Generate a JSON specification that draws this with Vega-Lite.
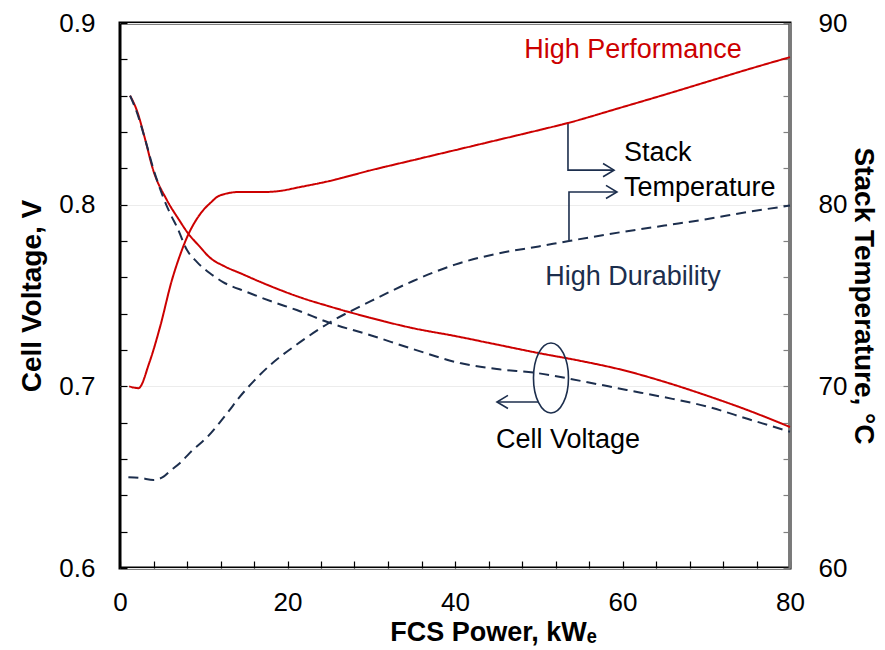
{
  "$schema": "https://vega.github.io/schema/vega-lite/v6.json",
  "width": 670,
  "height": 545,
  "autosize": "none",
  "padding": {"left": 120, "top": 23, "right": 95, "bottom": 82},
  "config": {
    "font": "Liberation Sans",
    "view": {"stroke": "black", "strokeWidth": 3},
    "axis": {"labelFont": "Liberation Sans", "titleFont": "Liberation Sans", "labelColor": "black", "titleColor": "black", "zindex": 1}
  },
  "datasets": {
    "cv": [
      {"P": 1.2, "V": 0.860, "mode": "High Performance"},
      {"P": 2, "V": 0.852, "mode": "High Performance"},
      {"P": 3, "V": 0.836, "mode": "High Performance"},
      {"P": 3.9, "V": 0.820, "mode": "High Performance"},
      {"P": 5.6, "V": 0.8025, "mode": "High Performance"},
      {"P": 7, "V": 0.792, "mode": "High Performance"},
      {"P": 8.1, "V": 0.7844, "mode": "High Performance"},
      {"P": 9.5, "V": 0.777, "mode": "High Performance"},
      {"P": 10.7, "V": 0.771, "mode": "High Performance"},
      {"P": 12.5, "V": 0.766, "mode": "High Performance"},
      {"P": 14.3, "V": 0.7624, "mode": "High Performance"},
      {"P": 17, "V": 0.757, "mode": "High Performance"},
      {"P": 21.5, "V": 0.749, "mode": "High Performance"},
      {"P": 25, "V": 0.744, "mode": "High Performance"},
      {"P": 30, "V": 0.7376, "mode": "High Performance"},
      {"P": 35, "V": 0.732, "mode": "High Performance"},
      {"P": 40, "V": 0.7277, "mode": "High Performance"},
      {"P": 45, "V": 0.723, "mode": "High Performance"},
      {"P": 50, "V": 0.7183, "mode": "High Performance"},
      {"P": 55, "V": 0.714, "mode": "High Performance"},
      {"P": 60, "V": 0.709, "mode": "High Performance"},
      {"P": 65, "V": 0.7025, "mode": "High Performance"},
      {"P": 70, "V": 0.695, "mode": "High Performance"},
      {"P": 75, "V": 0.6868, "mode": "High Performance"},
      {"P": 80, "V": 0.6776, "mode": "High Performance"},
      {"P": 1.2, "V": 0.860, "mode": "High Durability"},
      {"P": 2, "V": 0.851, "mode": "High Durability"},
      {"P": 3, "V": 0.836, "mode": "High Durability"},
      {"P": 3.9, "V": 0.821, "mode": "High Durability"},
      {"P": 5, "V": 0.806, "mode": "High Durability"},
      {"P": 6, "V": 0.795, "mode": "High Durability"},
      {"P": 6.8, "V": 0.7877, "mode": "High Durability"},
      {"P": 8, "V": 0.775, "mode": "High Durability"},
      {"P": 9.2, "V": 0.7684, "mode": "High Durability"},
      {"P": 10.7, "V": 0.7624, "mode": "High Durability"},
      {"P": 12.3, "V": 0.7574, "mode": "High Durability"},
      {"P": 15.1, "V": 0.752, "mode": "High Durability"},
      {"P": 18.3, "V": 0.7464, "mode": "High Durability"},
      {"P": 21.1, "V": 0.742, "mode": "High Durability"},
      {"P": 25, "V": 0.735, "mode": "High Durability"},
      {"P": 30, "V": 0.728, "mode": "High Durability"},
      {"P": 35, "V": 0.7205, "mode": "High Durability"},
      {"P": 40.6, "V": 0.7128, "mode": "High Durability"},
      {"P": 45, "V": 0.7095, "mode": "High Durability"},
      {"P": 49.8, "V": 0.7073, "mode": "High Durability"},
      {"P": 55, "V": 0.703, "mode": "High Durability"},
      {"P": 60.5, "V": 0.698, "mode": "High Durability"},
      {"P": 65, "V": 0.694, "mode": "High Durability"},
      {"P": 70, "V": 0.689, "mode": "High Durability"},
      {"P": 75, "V": 0.682, "mode": "High Durability"},
      {"P": 80, "V": 0.675, "mode": "High Durability"}
    ],
    "temp": [
      {"P": 1.1, "T": 70.0, "mode": "High Performance"},
      {"P": 2.2, "T": 69.9, "mode": "High Performance"},
      {"P": 3.5, "T": 71.3, "mode": "High Performance"},
      {"P": 4.8, "T": 73.3, "mode": "High Performance"},
      {"P": 6.2, "T": 75.85, "mode": "High Performance"},
      {"P": 7, "T": 77.0, "mode": "High Performance"},
      {"P": 8, "T": 78.2, "mode": "High Performance"},
      {"P": 9.6, "T": 79.5, "mode": "High Performance"},
      {"P": 10.8, "T": 80.1, "mode": "High Performance"},
      {"P": 11.9, "T": 80.5, "mode": "High Performance"},
      {"P": 14.3, "T": 80.7, "mode": "High Performance"},
      {"P": 17.5, "T": 80.7, "mode": "High Performance"},
      {"P": 19, "T": 80.75, "mode": "High Performance"},
      {"P": 21.5, "T": 80.97, "mode": "High Performance"},
      {"P": 25, "T": 81.3, "mode": "High Performance"},
      {"P": 30, "T": 81.9, "mode": "High Performance"},
      {"P": 35, "T": 82.45, "mode": "High Performance"},
      {"P": 40, "T": 83.0, "mode": "High Performance"},
      {"P": 45, "T": 83.55, "mode": "High Performance"},
      {"P": 50, "T": 84.1, "mode": "High Performance"},
      {"P": 53.5, "T": 84.5, "mode": "High Performance"},
      {"P": 60, "T": 85.37, "mode": "High Performance"},
      {"P": 65, "T": 86.05, "mode": "High Performance"},
      {"P": 70, "T": 86.75, "mode": "High Performance"},
      {"P": 75, "T": 87.45, "mode": "High Performance"},
      {"P": 80, "T": 88.12, "mode": "High Performance"},
      {"P": 1.0, "T": 65.0, "mode": "High Durability"},
      {"P": 2.5, "T": 64.95, "mode": "High Durability"},
      {"P": 4, "T": 64.85, "mode": "High Durability"},
      {"P": 5.1, "T": 65.0, "mode": "High Durability"},
      {"P": 6, "T": 65.35, "mode": "High Durability"},
      {"P": 7.2, "T": 65.8, "mode": "High Durability"},
      {"P": 8.7, "T": 66.5, "mode": "High Durability"},
      {"P": 10.4, "T": 67.2, "mode": "High Durability"},
      {"P": 11.9, "T": 68.0, "mode": "High Durability"},
      {"P": 13.1, "T": 68.7, "mode": "High Durability"},
      {"P": 14, "T": 69.25, "mode": "High Durability"},
      {"P": 16, "T": 70.3, "mode": "High Durability"},
      {"P": 18, "T": 71.2, "mode": "High Durability"},
      {"P": 21.1, "T": 72.3, "mode": "High Durability"},
      {"P": 25, "T": 73.5, "mode": "High Durability"},
      {"P": 30, "T": 74.7, "mode": "High Durability"},
      {"P": 35, "T": 75.8, "mode": "High Durability"},
      {"P": 40, "T": 76.7, "mode": "High Durability"},
      {"P": 45, "T": 77.3, "mode": "High Durability"},
      {"P": 50, "T": 77.7, "mode": "High Durability"},
      {"P": 53.6, "T": 78.0, "mode": "High Durability"},
      {"P": 60, "T": 78.5, "mode": "High Durability"},
      {"P": 65, "T": 78.85, "mode": "High Durability"},
      {"P": 70, "T": 79.2, "mode": "High Durability"},
      {"P": 75, "T": 79.6, "mode": "High Durability"},
      {"P": 80, "T": 79.95, "mode": "High Durability"}
    ],
    "brackets": [
      {"seg": "a", "ord": 1, "P": 53.49, "V": 0.845},
      {"seg": "a", "ord": 2, "P": 53.49, "V": 0.819},
      {"seg": "a", "ord": 3, "P": 58.99, "V": 0.819},
      {"seg": "b", "ord": 1, "P": 53.61, "V": 0.7806},
      {"seg": "b", "ord": 2, "P": 53.61, "V": 0.807},
      {"seg": "b", "ord": 3, "P": 59.34, "V": 0.807},
      {"seg": "c", "ord": 1, "P": 49.91, "V": 0.6914},
      {"seg": "c", "ord": 2, "P": 45.01, "V": 0.6914}
    ],
    "rightTips": [
      {"P": 58.99, "V": 0.819},
      {"P": 59.34, "V": 0.807}
    ],
    "leftTips": [
      {"P": 45.01, "V": 0.6914}
    ],
    "ellipse": [
      {"P": 51.46, "V": 0.7046}
    ],
    "rightEdge": [
      {"P": 80}
    ],
    "labelsBlack": [
      {"P": 60.18, "V": 0.8284, "label": "Stack"},
      {"P": 60.18, "V": 0.8092, "label": "Temperature"}
    ],
    "labelCV": [
      {"P": 53.49, "V": 0.6705, "label": "Cell Voltage"}
    ],
    "labelHP": [
      {"P": 61.25, "V": 0.8851, "label": "High Performance"}
    ],
    "labelHD": [
      {"P": 61.25, "V": 0.7602, "label": "High Durability"}
    ]
  },
  "encoding": {
    "x": {
      "field": "P",
      "type": "quantitative",
      "scale": {"domain": [0, 80], "nice": false, "zero": false},
      "axis": {
        "values": [0, 4, 8, 12, 16, 20, 24, 28, 32, 36, 40, 44, 48, 52, 56, 60, 64, 68, 72, 76, 80],
        "labelExpr": "datum.value % 20 == 0 ? datum.label : ''",
        "title": "FCS Power, kWₑ",
        "titleFontSize": 27,
        "titleFontWeight": "bold",
        "titlePadding": 4,
        "titleX": 373,
        "labelFontSize": 26,
        "labelPadding": 21,
        "offset": -7,
        "tickSize": 7,
        "tickColor": "black",
        "tickWidth": 1.2,
        "domain": false,
        "grid": false,
        "labelFlush": false
      }
    }
  },
  "layer": [
    {
      "encoding": {
        "y": {
          "field": "V",
          "type": "quantitative",
          "scale": {"domain": [0.6, 0.9], "nice": false, "zero": false},
          "axis": {
            "values": [0.6, 0.62, 0.64, 0.66, 0.68, 0.7, 0.72, 0.74, 0.76, 0.78, 0.8, 0.82, 0.84, 0.86, 0.88, 0.9],
            "labelExpr": "abs(datum.value * 10 - round(datum.value * 10)) < 0.001 ? format(datum.value, '.1f') : ''",
            "title": "Cell Voltage, V",
            "titleFontSize": 28,
            "titleFontWeight": "bold",
            "titlePadding": 12,
            "labelFontSize": 26,
            "labelPadding": 25,
            "offset": -7,
            "tickSize": 7,
            "tickColor": "black",
            "tickWidth": 1.2,
            "domain": false,
            "grid": true,
            "gridColor": "#ececec",
            "gridOpacity": {"condition": {"test": "abs(datum.value * 10 - round(datum.value * 10)) < 0.001", "value": 1}, "value": 0},
            "labelFlush": false
          }
        }
      },
      "layer": [
        {
          "data": {"name": "rightEdge"},
          "mark": {"type": "rule", "color": "#7a7a7a", "strokeWidth": 3},
          "encoding": {"y": {"value": 0}, "y2": {"value": 545}}
        },
        {
          "data": {"name": "cv"},
          "mark": {"type": "line", "strokeWidth": 2, "interpolate": "monotone"},
          "encoding": {
            "color": {"field": "mode", "type": "nominal", "scale": {"domain": ["High Performance", "High Durability"], "range": ["#cc0000", "#1c2e4d"]}, "legend": null},
            "strokeDash": {"field": "mode", "type": "nominal", "scale": {"domain": ["High Performance", "High Durability"], "range": [[1, 0], [10, 6]]}, "legend": null}
          }
        },
        {
          "data": {"name": "brackets"},
          "mark": {"type": "line", "strokeWidth": 1.6, "color": "#1c2e4d"},
          "encoding": {
            "detail": {"field": "seg", "type": "nominal"},
            "order": {"field": "ord", "type": "quantitative"}
          }
        },
        {
          "data": {"name": "rightTips"},
          "mark": {"type": "point", "shape": "M-1,-0.6L0,0L-1,0.6", "filled": false, "stroke": "#1c2e4d", "strokeWidth": 1.6, "size": 484, "opacity": 1},
          "encoding": {}
        },
        {
          "data": {"name": "leftTips"},
          "mark": {"type": "point", "shape": "M1,-0.6L0,0L1,0.6", "filled": false, "stroke": "#1c2e4d", "strokeWidth": 1.6, "size": 484, "opacity": 1},
          "encoding": {}
        },
        {
          "data": {"name": "ellipse"},
          "mark": {"type": "point", "shape": "M0,-1A0.5,1,0,1,1,0,1A0.5,1,0,1,1,0,-1Z", "filled": false, "stroke": "#1c2e4d", "strokeWidth": 1.6, "size": 4900, "opacity": 1},
          "encoding": {}
        },
        {
          "data": {"name": "labelsBlack"},
          "mark": {"type": "text", "align": "left", "baseline": "middle", "fontSize": 27, "color": "black"},
          "encoding": {"text": {"field": "label"}}
        },
        {
          "data": {"name": "labelCV"},
          "mark": {"type": "text", "align": "center", "baseline": "middle", "fontSize": 27, "color": "black"},
          "encoding": {"text": {"field": "label"}}
        },
        {
          "data": {"name": "labelHP"},
          "mark": {"type": "text", "align": "center", "baseline": "middle", "fontSize": 27, "color": "#cc0000"},
          "encoding": {"text": {"field": "label"}}
        },
        {
          "data": {"name": "labelHD"},
          "mark": {"type": "text", "align": "center", "baseline": "middle", "fontSize": 27, "color": "#1c2e4d"},
          "encoding": {"text": {"field": "label"}}
        }
      ]
    },
    {
      "data": {"name": "temp"},
      "mark": {"type": "line", "strokeWidth": 2, "interpolate": "monotone"},
      "encoding": {
        "y": {
          "field": "T",
          "type": "quantitative",
          "scale": {"domain": [60, 90], "nice": false, "zero": false},
          "axis": {
            "orient": "right",
            "values": [60, 62, 64, 66, 68, 70, 72, 74, 76, 78, 80, 82, 84, 86, 88, 90],
            "labelExpr": "datum.value % 10 == 0 ? datum.label : ''",
            "title": "Stack Temperature, °C",
            "titleFontSize": 28,
            "titleFontWeight": "bold",
            "titlePadding": 2,
            "labelFontSize": 26,
            "labelPadding": 28,
            "offset": -7,
            "tickSize": 7,
            "tickColor": "#808080",
            "tickWidth": 1.2,
            "domain": false,
            "grid": false,
            "labelFlush": false
          }
        },
        "color": {"field": "mode", "type": "nominal", "scale": {"domain": ["High Performance", "High Durability"], "range": ["#cc0000", "#1c2e4d"]}, "legend": null},
        "strokeDash": {"field": "mode", "type": "nominal", "scale": {"domain": ["High Performance", "High Durability"], "range": [[1, 0], [10, 6]]}, "legend": null}
      }
    }
  ],
  "resolve": {"scale": {"y": "independent"}}
}
